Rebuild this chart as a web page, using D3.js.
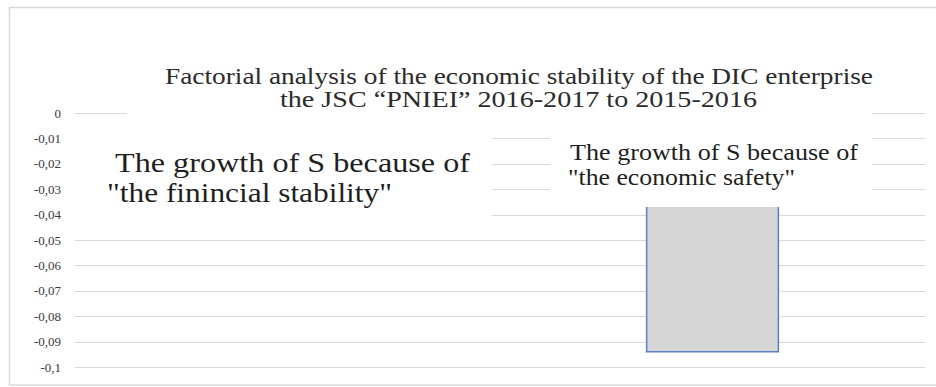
<!DOCTYPE html>
<html><head>
<script src="https://cdn.jsdelivr.net/npm/d3@7"></script>
</head><body style="margin:0">
<svg id="chart" width="936" height="387" font-family="Liberation Serif"></svg>
<script>
const categories = ["the finincial stability", "the economic safety"];
const values = [0, -0.094];
const tickValues = [0, -0.01, -0.02, -0.03, -0.04, -0.05, -0.06, -0.07, -0.08, -0.09, -0.1];
const titleLines = ["Factorial analysis of the economic stability of the DIC enterprise", "the JSC \u201cPNIEI\u201d 2016-2017 to 2015-2016"];
const labelLines = [["The growth of S because of", "\"the finincial stability\""], ["The growth of S because of", "\"the economic safety\""]];

const SERIF = "'Liberation Serif'";
const svg = d3.select("#chart");
const plot = {left: 75, right: 925, top: 113, bottom: 367};

svg.append("rect").attr("x", 9.5).attr("y", 7.5).attr("width", 940).attr("height", 377.5)
  .attr("fill", "#fff").attr("stroke", "#d9d9d9").attr("stroke-width", 1.5);

const x = d3.scaleBand().domain(categories).range([plot.left, plot.right]).paddingInner(0.69).paddingOuter(0.345);
const y = d3.scaleLinear().domain([0, -0.1]).range([plot.top, plot.bottom]);

svg.append("g").selectAll("line").data(tickValues).join("line")
  .attr("x1", plot.left).attr("x2", plot.right)
  .attr("y1", d => Math.round(y(d)) + 0.5).attr("y2", d => Math.round(y(d)) + 0.5)
  .attr("stroke", "#d9d9d9").attr("stroke-width", 1);

const fmt = d => d === 0 ? "0" : String(+d.toFixed(2)).replace(".", ",");
const yAxis = d3.axisLeft(y).tickValues(tickValues).tickSize(0).tickPadding(0).tickFormat(fmt);
const gy = svg.append("g").attr("transform", `translate(${plot.left - 14},0)`).call(yAxis);
gy.select(".domain").remove();
gy.attr("font-family", "Liberation Serif").attr("font-size", 13);
gy.selectAll("text").style("font-family", SERIF).style("font-size", "13px").attr("fill", "#3a3a3a");

svg.append("g").selectAll("rect").data(categories).join("rect")
  .attr("x", d => x(d)).attr("width", x.bandwidth())
  .attr("y", (d, i) => y(Math.max(0, values[i])))
  .attr("height", (d, i) => Math.abs(y(values[i]) - y(0)))
  .attr("fill", "#d6d6d6").attr("stroke", "#5b7fc7").attr("stroke-width", 1.5);

// title
svg.append("rect").attr("x", 127).attr("y", 35).attr("width", 745).attr("height", 83).attr("fill", "#fff");
const titleSpec = [{x: 165, y: 84, w: 708}, {x: 280, y: 107, w: 477}];
titleLines.forEach((t, i) => svg.append("text")
  .attr("x", titleSpec[i].x).attr("y", titleSpec[i].y)
  .attr("textLength", titleSpec[i].w).attr("lengthAdjust", "spacingAndGlyphs")
  .style("font-family", SERIF).style("font-size", "23px").attr("fill", "#2b2b2b").text(t));

// data labels
const boxes = [
  {x: plot.left, y: 118, w: 417, h: 100, fs: 27, lines: [{x: 115, y: 172, w: 355}, {x: 107, y: 202, w: 285}]},
  {x: 550, y: 118, w: 322, h: 89, fs: 23, lines: [{x: 570, y: 160, w: 288}, {x: 568, y: 185, w: 227}]}
];
boxes.forEach((b, i) => {
  svg.append("rect").attr("x", b.x).attr("y", b.y).attr("width", b.w).attr("height", b.h).attr("fill", "#fff");
  labelLines[i].forEach((s, j) => svg.append("text")
    .attr("x", b.lines[j].x).attr("y", b.lines[j].y)
    .attr("textLength", b.lines[j].w).attr("lengthAdjust", "spacingAndGlyphs")
    .style("font-family", SERIF).style("font-size", b.fs + "px").attr("fill", "#1f1f1f").text(s));
});
</script>
</body></html>
